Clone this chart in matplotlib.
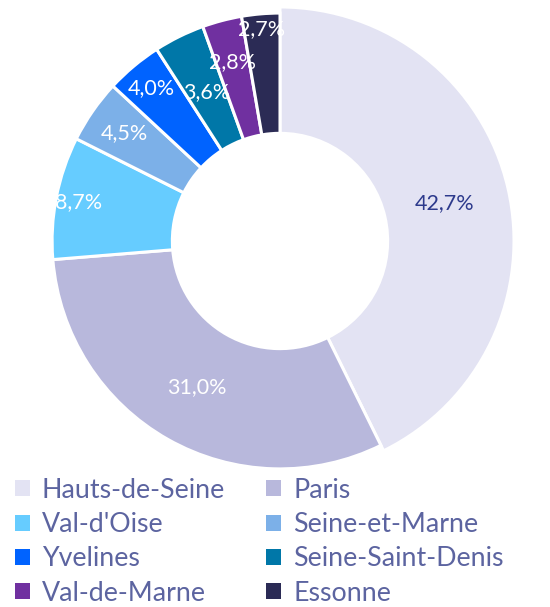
import numpy as np
import matplotlib.pyplot as plt
from matplotlib.patches import Patch

# Répartition par département (%)
departements = ["Hauts-de-Seine", "Paris", "Val-d'Oise", "Seine-et-Marne",
                "Yvelines", "Seine-Saint-Denis", "Val-de-Marne", "Essonne"]
parts = [42.7, 31.0, 8.7, 4.5, 4.0, 3.6, 2.8, 2.7]

couleurs = ["#e3e3f3", "#b8b8dc", "#66ccff", "#7cb0e8",
            "#0063ff", "#0077a8", "#7030a0", "#2b2b55"]
couleurs_txt = ["#2d3a8c"] + ["white"] * 7
# distance of each percentage label from the centre (fraction of radius)
dist_labels = [0.72, 0.72, 0.875, 0.81, 0.855, 0.71, 0.79, 0.91]

plt.rcParams['font.family'] = ['Lato', 'DejaVu Sans']

fig = plt.figure(figsize=(5.5, 6.07), dpi=100)
ax = fig.add_axes([0.0836, 0.2175, 0.851, 0.771])

inner = 0.46
wedges, _ = ax.pie(parts, colors=couleurs, startangle=90, counterclock=False,
                   radius=1.0, wedgeprops=dict(width=1 - inner, edgecolor="white", linewidth=2.2))
# the first slice is highlighted (drawn a bit larger)
for w in wedges[1:]:
    w.set_radius(0.974)
    w.set_width(0.974 - inner)

for w, val, d, c in zip(wedges, parts, dist_labels, couleurs_txt):
    ang = np.deg2rad((w.theta1 + w.theta2) / 2)
    ax.text(d * np.cos(ang), d * np.sin(ang), f"{val:.1f}%".replace(".", ","),
            ha="center", va="center", color=c, fontsize=15.5)

ax.set_xlim(-1, 1)
ax.set_ylim(-1, 1)
ax.set_aspect("equal")

# legend filled row by row (matplotlib fills columns first)
ordre = [0, 2, 4, 6, 1, 3, 5, 7]
handles = [Patch(facecolor=couleurs[i], edgecolor="none") for i in ordre]
labels = [departements[i] for i in ordre]
leg = fig.legend(handles, labels, ncol=2, loc="upper left",
                 bbox_to_anchor=(0.027, 0.213), frameon=False, fontsize=19.3,
                 handlelength=0.55, handleheight=0.55, handletextpad=0.45,
                 columnspacing=1.55, labelspacing=0.35, borderpad=0, borderaxespad=0)
for t in leg.get_texts():
    t.set_color("#5c64a0")

fig.savefig("out.png", dpi=100)
